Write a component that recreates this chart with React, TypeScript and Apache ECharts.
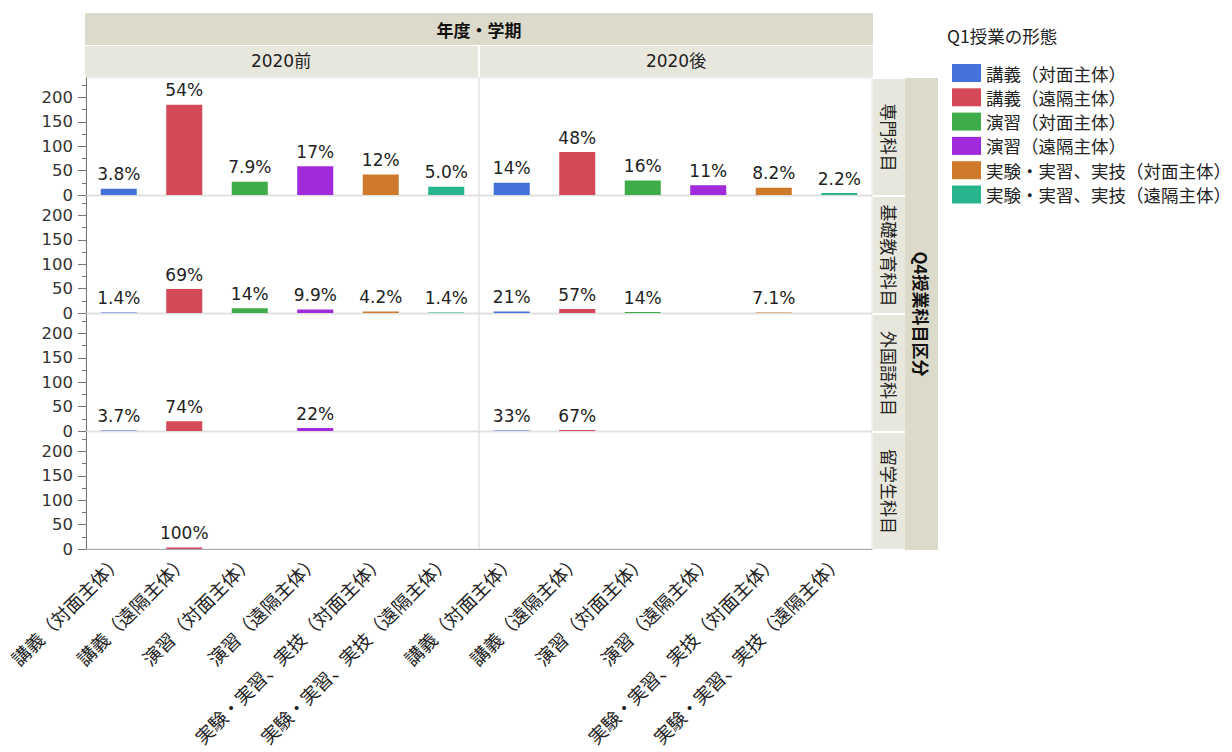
import React, { useEffect, useRef } from 'react';
import * as echarts from 'echarts';

const categories = [
  '講義（対面主体）',
  '講義（遠隔主体）',
  '演習（対面主体）',
  '演習（遠隔主体）',
  '実験・実習、実技（対面主体）',
  '実験・実習、実技（遠隔主体）',
];
const periods = ['2020前', '2020後'];
const subjects = ['専門科目', '基礎教育科目', '外国語科目', '留学生科目'];
const colors = ['#4272da', '#d44958', '#3eac48', '#a02adc', '#ce7a2a', '#28b48c'];

// counts per category (null = none)
const senmonBefore = [13, 185, 27, 59, 42, 17];
const senmonAfter = [25, 88, 30, 20, 15, 4];
const kisoBefore = [1, 49, 10, 7, 3, 1];
const kisoAfter = [3, 8, 2, null, 1, null];
const gaikokugoBefore = [1, 20, null, 6, null, null];
const gaikokugoAfter = [1, 2, null, null, null, null];
const ryugakuseiBefore = [null, 3, null, null, null, null];
const ryugakuseiAfter = [null, null, null, null, null, null];

const yTicks = [0, 50, 100, 150, 200];
const yMax = 240;

const panelData: (number | null)[][][] = [
  [senmonBefore, senmonAfter],
  [kisoBefore, kisoAfter],
  [gaikokugoBefore, gaikokugoAfter],
  [ryugakuseiBefore, ryugakuseiAfter],
];

const NUM_FONT = "'DejaVu Sans', 'Noto Sans CJK JP', sans-serif";
const CJK_FONT = "'Noto Sans CJK JP', 'DejaVu Sans', sans-serif";

const colLeft = [86, 479];
const colWidth = 393;
const rowTop = [78, 196, 314, 432];
const rowHeight = 117;

function fmtPct(v: number, total: number): string {
  const p = (v / total) * 100;
  if (p >= 9.95) return Math.round(p) + '%';
  return p.toFixed(1) + '%';
}

export default function App() {
  const ref = useRef<HTMLDivElement>(null);
  useEffect(() => {
    if (!ref.current) return;
    const chart = echarts.init(ref.current, null, { renderer: 'svg' });
    const grids: any[] = [];
    const xAxes: any[] = [];
    const yAxes: any[] = [];
    const series: any[] = [];
    const graphics: any[] = [];

    for (let r = 0; r < subjects.length; r++) {
      for (let c = 0; c < periods.length; c++) {
        const p = r * periods.length + c;
        const vals = panelData[r][c];
        const total = vals.reduce((s: number, v) => s + (v ?? 0), 0);
        grids.push({
          left: colLeft[c],
          top: rowTop[r],
          width: colWidth,
          height: rowHeight,
          show: true,
          borderColor: '#e2e2e2',
          borderWidth: 1,
          backgroundColor: 'transparent',
        });
        xAxes.push({
          type: 'category',
          gridIndex: p,
          data: categories,
          axisLine: { show: true, lineStyle: { color: r === 3 ? '#a8a8a8' : '#e0e0e0', width: 1 } },
          axisTick: { show: false },
          axisLabel: {
            show: r === subjects.length - 1,
            rotate: 45,
            interval: 0,
            margin: 8,
            fontSize: 18.5,
            fontFamily: CJK_FONT,
            color: '#222',
          },
          splitLine: { show: false },
        });
        yAxes.push({
          type: 'value',
          gridIndex: p,
          min: 0,
          max: yMax,
          show: c === 0,
          axisLine: { show: true, lineStyle: { color: '#777', width: 1 } },
          axisTick: { show: true, customValues: yTicks, length: 8, lineStyle: { color: '#777' } },
          minorTick: { show: true, splitNumber: 2, length: 4, lineStyle: { color: '#777' } },
          axisLabel: {
            customValues: yTicks,
            margin: 13,
            fontSize: 16.5,
            fontFamily: NUM_FONT,
            color: '#333',
          },
          splitLine: { show: false },
          minorSplitLine: { show: false },
        });
        categories.forEach((cat, k) => {
          series.push({
            type: 'bar',
            name: cat,
            xAxisIndex: p,
            yAxisIndex: p,
            stack: 'p' + p,
            barWidth: '55%',
            itemStyle: { color: colors[k] },
            data: categories.map((_, j) => (j === k && vals[k] != null ? vals[k] : '-')),
            label: {
              show: true,
              position: 'top',
              distance: 6,
              fontSize: 17,
              fontFamily: NUM_FONT,
              color: '#222',
              formatter: (prm: any) => fmtPct(prm.value as number, total),
            },
          });
        });
      }
    }

    // Header bands
    graphics.push({ type: 'rect', shape: { x: 85, y: 13, width: 788, height: 32 }, style: { fill: '#dcdacb' }, silent: true });
    graphics.push({
      type: 'text', x: 479, y: 29,
      style: { text: '年度・学期', fill: '#111', fontSize: 17, fontWeight: 'bold', fontFamily: CJK_FONT, align: 'center', verticalAlign: 'middle' },
    });
    periods.forEach((pd, c) => {
      graphics.push({ type: 'rect', shape: { x: c === 0 ? 85 : 480, y: 46, width: 393, height: 31 }, style: { fill: '#e8e7de' }, silent: true });
      graphics.push({
        type: 'text', x: (c === 0 ? 85 : 480) + 196, y: 61,
        style: { text: pd, fill: '#222', fontSize: 17, fontFamily: NUM_FONT, align: 'center', verticalAlign: 'middle' },
      });
    });
    // Right strips
    subjects.forEach((s, r) => {
      graphics.push({ type: 'rect', shape: { x: 873, y: rowTop[r] + 1, width: 32, height: rowHeight - 1 }, style: { fill: '#e8e7de' }, silent: true });
      graphics.push({
        type: 'text', x: 889, y: rowTop[r] + rowHeight / 2 + 1, rotation: -Math.PI / 2,
        style: { text: s, fill: '#222', fontSize: 17, fontFamily: CJK_FONT, align: 'center', verticalAlign: 'middle' },
      });
    });
    graphics.push({ type: 'rect', shape: { x: 905, y: 78, width: 33, height: 472 }, style: { fill: '#dcdacb' }, silent: true });
    graphics.push({
      type: 'text', x: 921.5, y: 314, rotation: -Math.PI / 2,
      style: { text: 'Q4授業科目区分', fill: '#111', fontSize: 17, fontWeight: 'bold', fontFamily: CJK_FONT, align: 'center', verticalAlign: 'middle' },
    });
    // Legend title
    graphics.push({
      type: 'text', x: 947, y: 35,
      style: { text: 'Q1授業の形態', fill: '#222', fontSize: 17.5, fontFamily: CJK_FONT, align: 'left', verticalAlign: 'middle' },
    });

    chart.setOption({
      animation: false,
      backgroundColor: '#ffffff',
      grid: grids,
      xAxis: xAxes,
      yAxis: yAxes,
      series,
      legend: {
        orient: 'vertical',
        left: 947,
        top: 59,
        itemWidth: 29,
        itemHeight: 18,
        itemGap: 6.3,
        icon: 'rect',
        selectedMode: false,
        data: categories,
        textStyle: { fontSize: 17.5, fontFamily: CJK_FONT, color: '#222', lineHeight: 18 },
      },
      graphic: graphics,
    });
    return () => chart.dispose();
  }, []);
  return (
    <div
      ref={ref}
      style={{ position: 'fixed', left: 0, top: 0, width: 1232, height: 752, background: '#fff' }}
    />
  );
}
